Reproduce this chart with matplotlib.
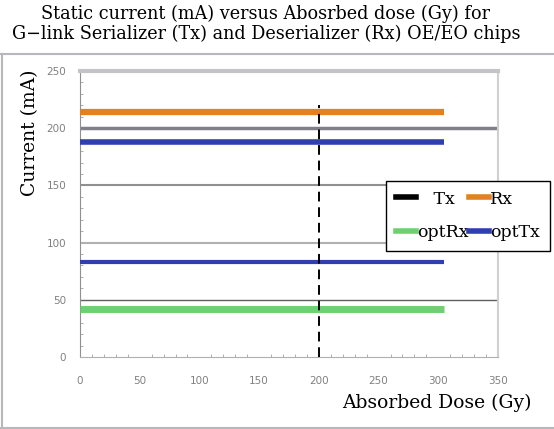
"""
Static current vs absorbed dose for G-link Tx/Rx OE/EO chips.
"""

import matplotlib
matplotlib.use("Agg")
import matplotlib.pyplot as plt
from matplotlib.lines import Line2D
from matplotlib.ticker import MultipleLocator

# dose points (Gy) and static currents (mA)
dose = [0, 305]
rx_current = [214, 214]
opttx_current_hi = [188, 188]
opttx_current_lo = [83, 83]
optrx_current = [42, 42]
tx_dose = [200, 200]
tx_current = [0, 220]

grid_levels = [50, 100, 150, 200]
x_ticks = [0, 50, 100, 150, 200, 250, 300, 350]
y_ticks = [0, 50, 100, 150, 200, 250]

SERIF = "DejaVu Serif"

fig = plt.figure(figsize=(5.54, 4.29), dpi=100)
ax = fig.add_axes([80 / 554, 1 - 357 / 429, 418 / 554, 286 / 429])

# horizontal gridlines
grid_style = {50: ("#606060", 1.0), 100: ("#b0b0b0", 1.5),
              150: ("#909090", 1.5), 200: ("#808088", 2.5)}
for g in grid_levels:
    c, lw = grid_style[g]
    ax.axhline(g, color=c, lw=lw, zorder=1)

ax.plot(dose, rx_current, color="#e3801f", lw=4.5, solid_capstyle="butt", zorder=3)
ax.plot(dose, opttx_current_hi, color="#2f3fb0", lw=4, solid_capstyle="butt", zorder=3)
ax.plot(dose, opttx_current_lo, color="#2f3fb0", lw=3, solid_capstyle="butt", zorder=3)
ax.plot(dose, optrx_current, color="#6fd070", lw=5, solid_capstyle="butt", zorder=3)
ax.plot(tx_dose, tx_current, color="black", lw=1.4, ls=(0, (5, 3)), zorder=4)

ax.set_xlim(0, 350)
ax.set_ylim(0, 250)
ax.set_xticks(x_ticks)
ax.set_yticks(y_ticks)
ax.xaxis.set_minor_locator(MultipleLocator(10))
ax.yaxis.set_minor_locator(MultipleLocator(10))
ax.tick_params(which="major", length=0, labelsize=7.5, labelcolor="#808080")
ax.tick_params(axis="x", which="major", pad=14)
ax.tick_params(axis="y", which="major", pad=10)
ax.tick_params(which="minor", length=2, direction="in", color="#a0a0a0")

ax.spines["left"].set_color("#909090")
ax.spines["bottom"].set_color("#b0b0b0")
ax.spines["top"].set_color("#c4c4c8")
ax.spines["top"].set_linewidth(3)
ax.spines["right"].set_color("#d0d0d0")
ax.spines["right"].set_linewidth(1.5)

ax.set_ylabel("Current (mA)", fontfamily=SERIF, fontsize=13.5, va="center")
ax.yaxis.set_label_coords(-0.12, 0.783, transform=ax.transAxes)
ax.set_xlabel("Absorbed Dose (Gy)", fontfamily=SERIF, fontsize=13.5,
              ha="right", va="center")
ax.xaxis.set_label_coords(1.08, -0.16, transform=ax.transAxes)

handles = [
    Line2D([], [], color="black", lw=4),
    Line2D([], [], color="#6fd070", lw=4),
    Line2D([], [], color="#e3801f", lw=4),
    Line2D([], [], color="#2f3fb0", lw=4),
]
labels = ["   Tx", "optRx", "Rx", "optTx"]
leg = fig.legend(handles, labels, ncol=2, loc="upper left",
                 bbox_to_anchor=(386 / 554, 1 - 181 / 429),
                 prop={"family": SERIF, "size": 12.5}, frameon=True,
                 fancybox=False, edgecolor="black", framealpha=1,
                 handlelength=1.15, handletextpad=0.1, columnspacing=0.0,
                 borderpad=0.55, labelspacing=0.95, borderaxespad=0)
leg.get_frame().set_linewidth(1.0)

fig.text(0.48, 1 - 14 / 429, "Static current (mA) versus Abosrbed dose (Gy) for",
         ha="center", va="center", fontfamily=SERIF, fontsize=12.7)
fig.text(0.48, 1 - 34 / 429, "G\u2212link Serializer (Tx) and Deserializer (Rx) OE/EO chips",
         ha="center", va="center", fontfamily=SERIF, fontsize=12.7)

# frame around the plot area
frame_kw = dict(color="#b8b8bc", lw=1.5, transform=fig.transFigure)
fig.add_artist(Line2D([0, 1], [1 - 54 / 429, 1 - 54 / 429], **frame_kw))
fig.add_artist(Line2D([1.5 / 554, 1.5 / 554], [1 - 54 / 429, 1 - 427.5 / 429], **frame_kw))
fig.add_artist(Line2D([0, 1], [1 - 427.5 / 429, 1 - 427.5 / 429], **frame_kw))

fig.savefig("out.png", dpi=100)
